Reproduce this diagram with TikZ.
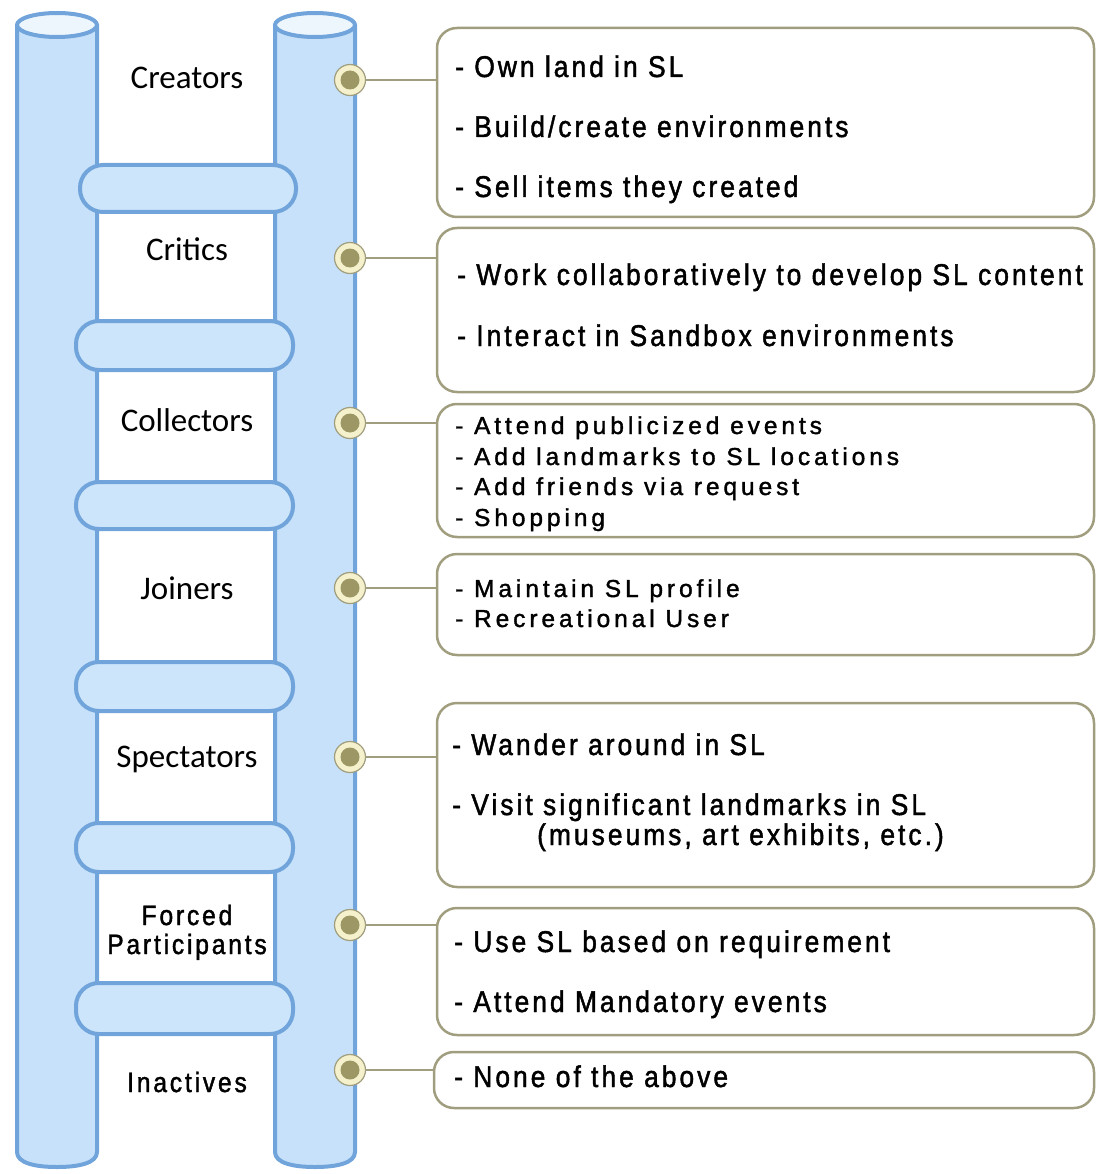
\documentclass[tikz,border=0pt]{standalone}
\usepackage{fontspec}
\setmainfont{Liberation Sans}
\newfontfamily\labelfont{Carlito}
\newfontfamily\itemfont{Liberation Sans}[FakeStretch=0.88,LetterSpace=10,FakeBold=1.5]
\newfontfamily\smallitemfont{Liberation Sans}[LetterSpace=16,FakeBold=1.5]
\usepackage{tikz}
\usetikzlibrary{positioning}

\definecolor{postfill}{RGB}{198,225,249}
\definecolor{postline}{RGB}{112,164,219}
\definecolor{posttop}{RGB}{238,246,253}
\definecolor{rungfill}{RGB}{204,229,250}
\definecolor{boxline}{RGB}{160,158,126}
\definecolor{dotring}{RGB}{245,241,204}
\definecolor{dotcore}{RGB}{156,151,100}

\begin{document}
\begin{tikzpicture}[x=1pt,y=-1pt,
  post/.style={draw=postline,fill=postfill,line width=4pt},
  rung/.style={draw=postline,fill=rungfill,line width=4pt,rounded corners=23pt},
  role/.style={font=\labelfont\fontsize{33}{36}\selectfont,anchor=base,inner sep=0pt},
  narrowrole/.style={font=\itemfont\fontsize{28}{30}\selectfont,anchor=base,inner sep=0pt},
  dot/.style={circle,draw=boxline,fill=dotring,line width=1.2pt,minimum size=31pt,inner sep=0pt,
    path picture={\fill[dotcore] (path picture bounding box.center) circle (9.5pt);}},
  infobox/.style={draw=boxline,line width=2.5pt,rounded corners=20pt,inner sep=0pt,minimum width=657pt},
  link/.style={draw=boxline,line width=2.5pt},
  item/.style={font=\itemfont\fontsize{30}{32}\selectfont,anchor=base west,inner sep=0pt},
  smallitem/.style={font=\smallitemfont\fontsize{24.5}{27}\selectfont,anchor=base west,inner sep=0pt}
]
  \useasboundingbox (0,0) rectangle (1096,1174);

  % ladder posts
  \draw[post] (17,25) -- (17,1152) .. controls (17,1163) and (35,1167) .. (57,1167)
    .. controls (79,1167) and (97,1163) .. (97,1152) -- (97,25);
  \draw[post,fill=posttop] (57,25) ellipse [x radius=40,y radius=12];
  \draw[post] (275,25) -- (275,1152) .. controls (275,1163) and (293,1167) .. (315,1167)
    .. controls (337,1167) and (355,1163) .. (355,1152) -- (355,25);
  \draw[post,fill=posttop] (315,25) ellipse [x radius=40,y radius=12];

  % rungs
  \draw[rung] (80,165) rectangle (296,212);
  \draw[rung] (76,321) rectangle (293,370);
  \draw[rung] (76,482) rectangle (293,529);
  \draw[rung] (76,662) rectangle (293,711);
  \draw[rung] (76,823) rectangle (293,872);
  \draw[rung] (76,983) rectangle (293,1034);

  % roles
  \node[role] (creators) at (187,89) {Creators};
  \node[role] (critics) at (187,261) {Critics};
  \node[role] (collectors) at (187,431) {Collectors};
  \node[role] (joiners) at (187,599) {Joiners};
  \node[role] (spectators) at (187,767) {Spectators};
  \node[narrowrole] (forced) at (187,925) {Forced};
  \node[narrowrole] (participants) at (187,954) {Participants};
  \node[narrowrole] (inactives) at (187,1092) {Inactives};

  % boxes
  \node[infobox,minimum height=189pt] (b1) at (765.5,122.5) {};
  \node[infobox,minimum height=164pt] (b2) at (765.5,310) {};
  \node[infobox,minimum height=133pt] (b3) at (765.5,470.5) {};
  \node[infobox,minimum height=101pt] (b4) at (765.5,604.5) {};
  \node[infobox,minimum height=184pt] (b5) at (765.5,795) {};
  \node[infobox,minimum height=127pt] (b6) at (765.5,971.5) {};
  \node[infobox,minimum height=56pt,minimum width=660pt] (b7) at (764,1080) {};

  % dots and links
  \node[dot] (d1) at (350,80) {};
  \node[dot] (d2) at (350,258) {};
  \node[dot] (d3) at (350,423) {};
  \node[dot] (d4) at (350,588) {};
  \node[dot] (d5) at (350,757) {};
  \node[dot] (d6) at (350,925) {};
  \node[dot] (d7) at (350,1070) {};
  \draw[link] (d1) -- (d1 -| b1.west);
  \draw[link] (d2) -- (d2 -| b2.west);
  \draw[link] (d3) -- (d3 -| b3.west);
  \draw[link] (d4) -- (d4 -| b4.west);
  \draw[link] (d5) -- (d5 -| b5.west);
  \draw[link] (d6) -- (d6 -| b6.west);
  \draw[link] (d7) -- (d7 -| b7.west);

  % box texts
  \node[item] (t11) at (455,77) {- Own land in SL};
  \node[item] (t12) at (455,137) {- Build/create environments};
  \node[item] (t13) at (455,197) {- Sell items they created};
  \node[item] (t21) at (457,285) {- Work collaboratively to develop SL content};
  \node[item] (t22) at (457,346) {- Interact in Sandbox environments};
  \node[smallitem] (t31) at (455,434) {- Attend publicized events};
  \node[smallitem] (t32) at (455,465) {- Add landmarks to SL locations};
  \node[smallitem] (t33) at (455,495) {- Add friends via request};
  \node[smallitem] (t34) at (455,526) {- Shopping};
  \node[smallitem] (t41) at (455,597) {- Maintain SL profile};
  \node[smallitem] (t42) at (455,627) {- Recreational User};
  \node[item] (t51) at (452,755) {- Wander around in SL};
  \node[item] (t52) at (452,815) {- Visit significant landmarks in SL};
  \node[item] (t53) at (537,845) {(museums, art exhibits, etc.)};
  \node[item] (t61) at (454,952) {- Use SL based on requirement};
  \node[item] (t62) at (454,1012) {- Attend Mandatory events};
  \node[item] (t71) at (454,1087) {- None of the above};
\end{tikzpicture}
\end{document}
